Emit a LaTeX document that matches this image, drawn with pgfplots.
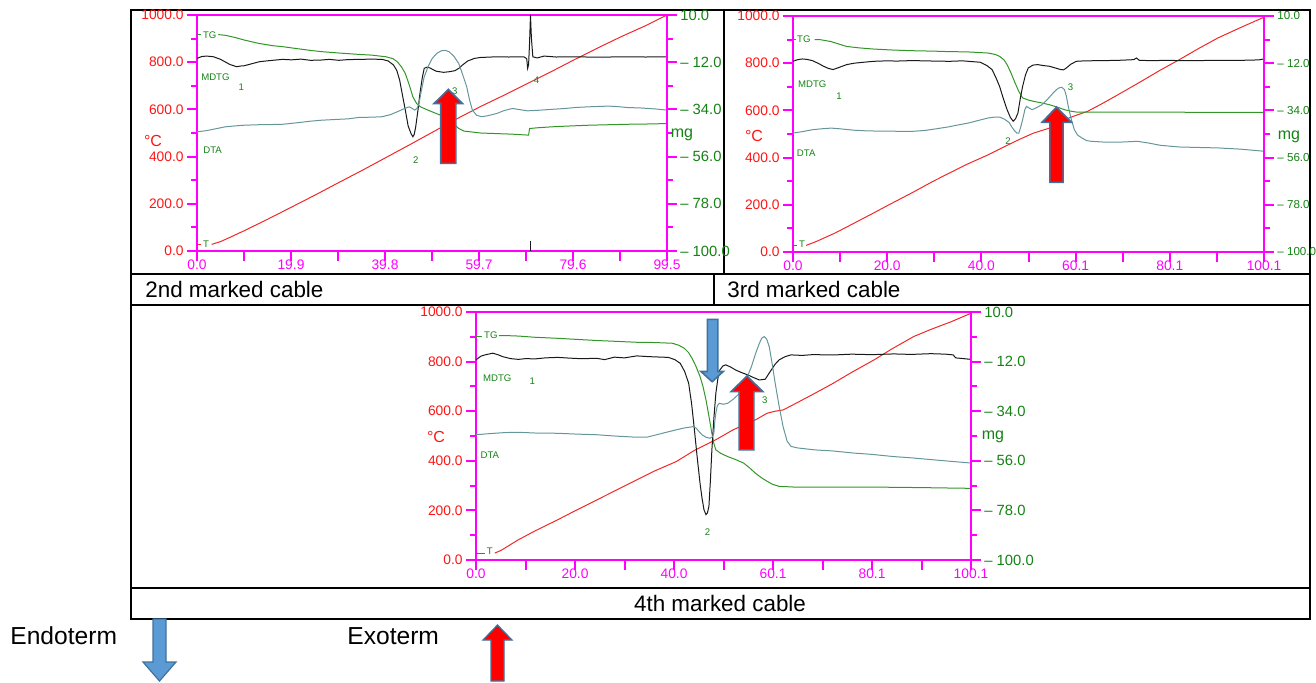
\documentclass[border=0pt]{standalone}
\usepackage{pgfplots}
\pgfplotsset{compat=1.18}
\usepackage{fontspec}
\setmainfont{Liberation Sans}
\definecolor{mag}{RGB}{255,0,255}
\definecolor{tred}{RGB}{255,20,20}
\definecolor{tgreen}{RGB}{20,130,20}
\definecolor{tgcol}{RGB}{50,150,40}
\definecolor{dtacol}{RGB}{100,150,155}
\definecolor{mdtgcol}{RGB}{25,25,25}
\definecolor{tcol}{RGB}{240,40,40}
\definecolor{arrowborder}{RGB}{65,113,156}
\definecolor{bluefill}{RGB}{91,155,213}
\newcommand\tkf{\fontsize{6.9}{7}\selectfont}
\newcommand\lbf{\fontsize{4.8}{5}\selectfont}
\pgfplotsset{
  base/.style={scale only axis, xmin=0, ymin=0, ymax=1000, clip=false,
    axis line style={mag, line width=1pt},
    tick style={mag, line width=1pt},
    tick align=outside, major tick length=5pt, minor tick length=3pt},
  leftax/.style={base, xtick pos=left, ytick pos=left,
    ytick={0,200,...,1000}, minor ytick={100,300,...,900},
    yticklabels={0.0,200.0,400.0,600.0,800.0,1000.0},
    yticklabel style={text=tred, font=\tkf, inner sep=1.5pt},
    xticklabel style={text=mag, font=\tkf, inner sep=1pt, yshift=2pt}},
  rightax/.style={base, axis x line=none, axis y line*=right,
    ytick={0,200,...,1000}, minor ytick={100,300,...,900},
    yticklabels={– 100.0,– 78.0,– 56.0,– 34.0,– 12.0,10.0},
    yticklabel style={text=tgreen, font=\fontsize{#1}{#1}\selectfont, inner sep=1.5pt}},
  Tst/.style={tcol, line width=0.5pt},
  TGst/.style={tgcol, line width=0.5pt},
  MDst/.style={mdtgcol, line width=0.5pt},
  DTst/.style={dtacol, line width=0.5pt},
}
\begin{document}
\begin{tikzpicture}
\useasboundingbox (0,0) rectangle (658pt,341pt);
% ---------------- frames, captions, legend ----------------
\begin{scope}[x=0.5pt,y=-0.5pt,shift={(0pt,341pt)}]
  \draw[line width=0.8pt] (131,10) rectangle (1310,305);
  \draw[line width=0.8pt] (131,274) -- (1310,274);
  \draw[line width=0.8pt] (724,10) -- (724,274);
  \draw[line width=0.8pt] (714,274) -- (714,305);
  \draw[line width=0.8pt] (131,305) rectangle (1310,619);
  \draw[line width=0.8pt] (131,588) -- (1310,588);
  \node[anchor=west, font=\fontsize{11.2}{13}\selectfont, inner sep=0pt] at (145,289.5) {2nd marked cable};
  \node[anchor=west, font=\fontsize{11.2}{13}\selectfont, inner sep=0pt] at (727,289.5) {3rd marked cable};
  \node[font=\fontsize{11.2}{13}\selectfont, inner sep=0pt] at (720,603.5) {4th marked cable};
  \node[anchor=west, font=\fontsize{12.3}{14}\selectfont, inner sep=0pt] at (10,636) {Endoterm};
  \node[anchor=west, font=\fontsize{12.3}{14}\selectfont, inner sep=0pt] at (347,636) {Exoterm};
  \filldraw[fill=bluefill, draw=arrowborder, line width=0.6pt]
    (153,619) -- (166,619) -- (166,662) -- (176,662) -- (159.5,681) -- (143,662) -- (153,662) -- cycle;
  \filldraw[fill=red, draw=arrowborder, line width=0.6pt]
    (491,681) -- (504,681) -- (504,640) -- (512,640) -- (497.5,625) -- (483,640) -- (491,640) -- cycle;
\end{scope}

% ================= Panel 1 (2nd marked cable) =================
\begin{axis}[leftax, at={(98.5pt,215.5pt)}, anchor=south west, width=235pt, height=118pt, xmax=99.5,
  xtick={0,9.95,19.9,29.85,39.8,49.75,59.7,69.65,79.6,89.55,99.5},
  xticklabels={0.0,,19.9,,39.8,,59.7,,79.6,,99.5}]
\addplot[Tst] coordinates {(3.1,28)(5,40)(7,58)(10,86)(15,135)(20,186)(25,237)(30,290)(35,342)(40,396)(45,450)(50,505)(55,560)(60,612)(65,660)(70,710)(75,760)(80,812)(85,862)(90,910)(95,955)(99.5,1000)};
\addplot[TGst] coordinates {(4.5,917)(6,914)(8,905)(10,894)(13,880)(16,870)(18.1,866)(21,858)(24,850)(26.2,845)(30,839)(34.3,833)(37,830)(40,823)(41.5,815)(42.4,802)(43.3,780)(44.1,752)(45,700)(45.7,653)(46.5,625)(47.3,611)(49,596)(50.6,583)(52,572)(53,562)(54,545)(55.4,519)(56.5,508)(57.9,505)(60,500)(62.7,498)(66.8,495)(70.2,491)(70.4,519)(72,522)(74.9,526)(78,529)(83,533)(87,535)(91.1,537)(95,538)(99.5,540)};
\addplot[MDst] coordinates {(0,816)(1,824)(2,826)(3.5,823)(5,812)(5.9,802)(7,790)(8.4,781)(9.3,784)(10,785)(11.5,793)(13.2,802)(15,806)(18.1,812)(20,810)(22,813)(24,808)(26.2,809)(28,812)(30,808)(32,811)(34.3,812)(37,813)(39.2,812)(40.5,805)(41.6,788)(42.3,765)(42.9,724)(43.5,660)(44.1,597)(44.7,530)(45.3,498)(45.7,484)(46,495)(46.3,526)(46.8,600)(47.2,668)(47.7,735)(48.1,774)(48.7,779)(49.3,776)(50,768)(50.6,762)(52.2,757)(53.5,760)(54.6,764)(55.5,775)(56.2,788)(57.3,805)(58.7,816)(60,820)(63.5,823)(66,822)(69.2,823)(69.8,815)(70,774)(70.2,790)(70.4,880)(70.6,1000)(70.8,900)(71.1,823)(72,818)(73.5,826)(76,822)(80,823)(85,821)(90,823)(95,822)(99.5,823)};
\addplot[MDst] coordinates {(70.6,0)(70.6,42)};
\addplot[DTst] coordinates {(0,505)(2,510)(4,518)(5.9,526)(8,530)(10,533)(13,535)(16,536)(18.1,537)(21,543)(24,550)(26.2,554)(29,557)(32,560)(34.3,566)(37,567)(39.2,569)(41,578)(42.4,590)(43.5,600)(44.9,611)(45.5,605)(46.1,597)(46.6,605)(47,625)(47.5,680)(48.1,738)(49,785)(49.8,816)(50.8,838)(51.8,849)(52.6,850)(53.4,844)(54.4,825)(55.4,795)(56.2,750)(57.1,696)(57.7,640)(58.3,597)(59.2,575)(60.3,569)(61.5,573)(63.5,583)(65,595)(66.8,604)(68,600)(70,594)(72,596)(74.9,600)(78,604)(80,608)(83,611)(87.1,614)(89,612)(91.1,608)(94,606)(97,602)(99.5,597)};
\draw[tgcol, line width=0.4pt] (axis cs:0,916) -- (axis cs:0.9,916);
\draw[tcol, line width=0.4pt] (axis cs:0,28) -- (axis cs:0.9,28);
\node[text=tgreen, font=\lbf] at (axis cs:2.7,916) {TG};
\node[text=tgreen, font=\lbf] at (axis cs:3.9,738) {MDTG};
\node[text=tgreen, font=\lbf] at (axis cs:9.4,692) {1};
\node[text=tgreen, font=\lbf] at (axis cs:3.3,427) {DTA};
\node[text=tgreen, font=\lbf] at (axis cs:46.3,385) {2};
\node[text=tgreen, font=\lbf] at (axis cs:54.6,679) {3};
\node[text=tgreen, font=\lbf] at (axis cs:71.9,724) {4};
\node[text=tgreen, font=\lbf] at (axis cs:1.9,30) {T};
\node[text=tred, font=\fontsize{8}{9}\selectfont, xshift=-22pt] at (rel axis cs:0,0.468) {°C};
\filldraw[fill=red, draw=arrowborder, line width=0.8pt]
  (axis cs:51.6,371) -- (axis cs:54.8,371) -- (axis cs:54.8,625) -- (axis cs:56.2,625) -- (axis cs:53.2,685) -- (axis cs:50.2,625) -- (axis cs:51.6,625) -- cycle;
\end{axis}
\begin{axis}[rightax=7.4, at={(98.5pt,215.5pt)}, anchor=south west, width=235pt, height=118pt, xmax=99.5]
\node[text=tgreen, font=\fontsize{8}{9}\selectfont, xshift=7.5pt] at (rel axis cs:1,0.491) {mg};
\end{axis}

% ================= Panel 2 (3rd marked cable) =================
\begin{axis}[leftax, at={(396.5pt,215pt)}, anchor=south west, width=235.5pt, height=118pt, xmax=100.1,
  xtick={0,10.01,20.02,30.03,40.04,50.05,60.06,70.07,80.08,90.09,100.1},
  xticklabels={0.0,,20.0,,40.0,,60.1,,80.1,,100.1}]
\addplot[Tst] coordinates {(2.8,28)(5,45)(8.9,80)(12,112)(17.1,165)(20,196)(25.2,250)(30,302)(33.3,335)(37,372)(41.5,412)(45,447)(48,476)(51,503)(54.5,525)(57,555)(60,578)(62.6,596)(66,632)(70,677)(74,723)(78,770)(82.1,815)(86,860)(90.3,907)(95,950)(100.1,995)};
\addplot[TGst] coordinates {(4.6,900)(5.7,900)(8,892)(11.4,871)(14,865)(17.1,860)(21,856)(25.2,853)(30,851)(33.3,849)(37,848)(41.5,843)(43,837)(43.9,829)(44.8,815)(45.5,794)(46.3,760)(47.2,716)(48,680)(48.8,653)(50,644)(51.2,638)(52.8,632)(54.5,624)(56,615)(57.7,603)(59,597)(60.2,593)(65.9,593)(75,593)(85,592)(100.1,592)};
\addplot[MDst] coordinates {(0,808)(1,815)(2,818)(3,816)(4.1,811)(5.3,800)(6.5,787)(7.5,778)(8.5,773)(9.5,780)(11.4,794)(13,800)(15,804)(17.1,808)(20,810)(22,809)(25.2,811)(28,810)(30,809)(33.3,808)(36,810)(39.8,804)(41.2,790)(42.3,773)(43.1,740)(43.9,702)(44.7,650)(45.5,603)(46.2,570)(46.8,554)(47.3,565)(47.8,589)(48.3,650)(48.8,702)(49.4,750)(50,780)(51,792)(52,794)(53.2,790)(54.5,787)(55.7,780)(56.9,773)(57.5,772)(58.1,780)(59,795)(60.2,808)(62,810)(65.9,811)(69,812)(72.4,815)(73,822)(73.6,812)(76,811)(80,812)(82.1,811)(85,811)(90.3,812)(95,812)(99,814)(100.1,818)};
\addplot[DTst] coordinates {(0,504)(2,510)(4.1,518)(6,522)(8.1,525)(10,522)(13,516)(16,513)(20,512)(25.2,511)(28,515)(30.1,521)(33,530)(35,538)(37.4,547)(39.5,558)(41.5,568)(43,572)(43.9,572)(45,562)(45.9,549)(46.6,527)(47.2,511)(47.6,504)(48,504)(48.4,530)(48.8,561)(49.3,605)(49.6,617)(50.2,610)(50.8,603)(51.8,612)(52.9,624)(54,645)(55.3,674)(56,688)(56.5,695)(57.1,698)(57.7,688)(58.1,660)(58.5,617)(59.1,565)(59.8,518)(60.5,495)(61.4,483)(62.4,472)(63.4,469)(65.9,466)(70,466)(73.2,469)(75.5,462)(78.1,452)(82.1,445)(86,443)(90.3,441)(95,436)(100.1,427)};
\draw[tgcol, line width=0.4pt] (axis cs:0,900) -- (axis cs:0.6,900);
\draw[tcol, line width=0.4pt] (axis cs:0,28) -- (axis cs:0.9,28);
\node[text=tgreen, font=\lbf] at (axis cs:2.3,900) {TG};
\node[text=tgreen, font=\lbf] at (axis cs:4.1,709) {MDTG};
\node[text=tgreen, font=\lbf] at (axis cs:9.8,662) {1};
\node[text=tgreen, font=\lbf] at (axis cs:2.8,417) {DTA};
\node[text=tgreen, font=\lbf] at (axis cs:45.7,469) {2};
\node[text=tgreen, font=\lbf] at (axis cs:59,698) {3};
\node[text=tgreen, font=\lbf] at (axis cs:1.9,31) {T};
\node[text=tred, font=\fontsize{8}{9}\selectfont, xshift=-19.5pt] at (rel axis cs:0,0.493) {°C};
\filldraw[fill=red, draw=arrowborder, line width=0.8pt]
  (axis cs:54.6,295) -- (axis cs:57.4,295) -- (axis cs:57.4,549) -- (axis cs:59.2,549) -- (axis cs:56,614) -- (axis cs:52.9,549) -- (axis cs:54.6,549) -- cycle;
\end{axis}
\begin{axis}[rightax=5.8, at={(396.5pt,215pt)}, anchor=south west, width=235.5pt, height=118pt, xmax=100.1]
\node[text=tgreen, font=\fontsize{8}{9}\selectfont, xshift=12.5pt] at (rel axis cs:1,0.49) {mg};
\end{axis}

% ================= Panel 3 (4th marked cable) =================
\begin{axis}[leftax, at={(238pt,61pt)}, anchor=south west, width=247.5pt, height=124pt, xmax=100.1,
  xtick={0,10.01,20.02,30.03,40.04,50.05,60.06,70.07,80.08,90.09,100.1},
  xticklabels={0.0,,20.0,,40.0,,60.1,,80.1,,100.1}]
\addplot[Tst] coordinates {(3.8,28)(5,38)(8.6,82)(12,118)(16.5,162)(20,198)(24.5,243)(28,278)(32.5,323)(36,358)(40.5,397)(44,440)(48.5,485)(52,525)(56.5,565)(58.9,592)(60.5,600)(62.1,605)(65,635)(68.5,672)(72,710)(76,757)(80.5,807)(84,850)(88.5,901)(92,930)(96,960)(100.1,995)};
\addplot[TGst] coordinates {(4.6,905)(6,905)(8.6,903)(12,898)(16.5,894)(20,890)(24.5,885)(28,882)(32.5,878)(36,877)(39.7,874)(41,866)(42.1,854)(43,836)(43.7,813)(44.5,780)(45.3,740)(45.9,700)(46.5,646)(47.1,580)(47.7,511)(48.1,470)(48.5,444)(49.5,430)(50.9,417)(52.5,405)(54.1,391)(55.3,372)(56.5,350)(57.7,332)(58.9,317)(60,305)(61.3,297)(64.5,294)(70,294)(80.5,294)(90,292)(96.5,290)(100.1,289)};
\addplot[MDst] coordinates {(0,807)(1,822)(1.8,827)(3.4,834)(4.4,828)(5.4,820)(7,812)(8.6,809)(10,812)(12,811)(14,815)(16.5,817)(19,814)(21,812)(24.5,813)(26,808)(28,818)(30,815)(32.5,823)(35,820)(38.9,817)(40.2,808)(41.3,793)(42.2,760)(43,713)(43.6,630)(44.1,538)(44.7,420)(45.3,310)(45.7,250)(46.1,203)(46.5,183)(46.8,190)(47.1,216)(47.4,320)(47.7,444)(48.1,570)(48.5,672)(48.9,730)(49.3,766)(49.9,782)(50.5,787)(51.5,778)(52.5,766)(53.8,755)(55,746)(56.2,735)(57.3,726)(58.5,729)(59.1,748)(59.7,766)(60.5,790)(61.3,807)(62.5,820)(63.7,827)(66,825)(68,828)(72.5,827)(76,830)(80,828)(84.5,831)(88,829)(92,832)(95,830)(96.5,827)(97,815)(98.1,813)(100.1,809)};
\addplot[DTst] coordinates {(0,505)(3,510)(6,514)(8.6,515)(12,512)(16.5,511)(20,508)(24.5,505)(28,500)(32.5,495)(34.5,495)(36.5,505)(38.5,515)(40.5,525)(42,532)(43.3,536)(44,538)(44.5,532)(45.1,518)(45.7,505)(46.5,495)(47.3,491)(47.8,497)(48.1,511)(48.3,560)(48.5,592)(48.8,622)(49.2,632)(50,628)(50.9,632)(52,648)(53.3,672)(54.5,720)(55.7,780)(56.5,830)(57.3,874)(57.8,895)(58.3,901)(58.8,890)(59.3,860)(59.9,790)(60.5,713)(61.3,620)(62.1,538)(62.9,480)(63.7,458)(65,452)(68.5,444)(72,440)(76.5,431)(80,426)(84.5,417)(88,412)(92.5,404)(96,398)(100.1,391)};
\draw[tgcol, line width=0.4pt] (axis cs:0,900) -- (axis cs:1.2,900);
\draw[tcol, line width=0.4pt] (axis cs:0,28) -- (axis cs:1.8,28);
\node[text=tgreen, font=\lbf] at (axis cs:3,907) {TG};
\node[text=tgreen, font=\lbf] at (axis cs:4.3,733) {MDTG};
\node[text=tgreen, font=\lbf] at (axis cs:11.4,719) {1};
\node[text=tgreen, font=\lbf] at (axis cs:2.8,421) {DTA};
\node[text=tgreen, font=\lbf] at (axis cs:46.8,111) {2};
\node[text=tgreen, font=\lbf] at (axis cs:58.4,643) {3};
\node[text=tgreen, font=\lbf] at (axis cs:2.8,35) {T};
\node[text=tred, font=\fontsize{8}{9}\selectfont, xshift=-20pt] at (rel axis cs:0,0.498) {°C};
\filldraw[fill=bluefill, draw=arrowborder, line width=0.8pt]
  (axis cs:46.8,970) -- (axis cs:48.9,970) -- (axis cs:48.9,760) -- (axis cs:50,760) -- (axis cs:47.75,719) -- (axis cs:45.5,760) -- (axis cs:46.8,760) -- cycle;
\filldraw[fill=red, draw=arrowborder, line width=0.8pt]
  (axis cs:53.2,444) -- (axis cs:56.2,444) -- (axis cs:56.2,679) -- (axis cs:58,679) -- (axis cs:54.8,742) -- (axis cs:51.6,679) -- (axis cs:53.2,679) -- cycle;
\end{axis}
\begin{axis}[rightax=7.4, at={(238pt,61pt)}, anchor=south west, width=247.5pt, height=124pt, xmax=100.1]
\node[text=tgreen, font=\fontsize{8}{9}\selectfont, xshift=11pt] at (rel axis cs:1,0.495) {mg};
\end{axis}
\end{tikzpicture}
\end{document}
